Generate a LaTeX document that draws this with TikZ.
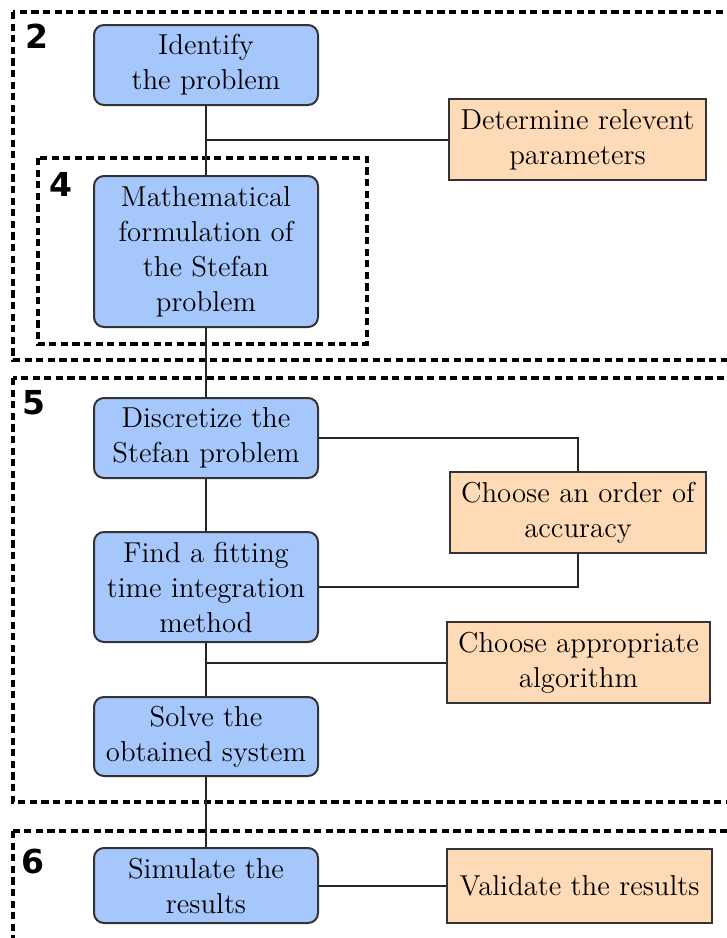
\documentclass[tikz,border=0pt]{standalone}
\usepackage{fontspec}
\newfontfamily\labelfont{DejaVu Sans}
\definecolor{boxblue}{RGB}{166,199,252}
\definecolor{boxorange}{RGB}{255,218,182}
\begin{document}
\begin{tikzpicture}[x=0.5pt,y=-0.5pt,
  bluebox/.style={draw=black!80, line width=1pt, fill=boxblue, rounded corners=5pt,
    align=center, inner sep=0pt, minimum width=112pt,
    font=\fontsize{14.4}{17.5}\selectfont},
  orangebox/.style={draw=black!80, line width=1pt, fill=boxorange,
    align=center, inner sep=0pt, font=\fontsize{14.4}{17.5}\selectfont},
  region/.style={draw=black, line width=1.7pt, dash pattern=on 3.6pt off 2.2pt},
  regionlabel/.style={font=\labelfont\bfseries\fontsize{16.5}{18}\selectfont, inner sep=0pt},
  link/.style={draw=black!85, line width=1pt}]
\clip (0,0) rectangle (727,938);

% regions
\draw[region] (13,12) rectangle (745,360);
\draw[region] (38,158) rectangle (367,344);
\draw[region] (13,378) rectangle (745,802);
\draw[region] (13,831) rectangle (745,955);
\node[regionlabel] (l2) at (37,36) {2};
\node[regionlabel] (l4) at (61,184) {4};
\node[regionlabel] (l5) at (34,403) {5};
\node[regionlabel] (l6) at (33,861) {6};

% main steps
\node[bluebox, minimum height=40pt] (identify) at (206,65) {Identify\\the problem};
\node[bluebox, minimum height=75.5pt] (math) at (206,251.5) {Mathematical\\formulation of\\the Stefan\\problem};
\node[bluebox, minimum height=40pt] (disc) at (206,438) {Discretize the\\Stefan problem};
\node[bluebox, minimum height=55pt] (find) at (206,587) {Find a fitting\\time integration\\method};
\node[bluebox, minimum height=39.5pt] (solve) at (206,736.5) {Solve the\\obtained system};
\node[bluebox, minimum height=37.5pt] (sim) at (206,885.5) {Simulate the\\results};

% side steps
\node[orangebox, minimum width=128.5pt, minimum height=40.5pt] (param) at (577.5,139.5) {Determine relevent\\parameters};
\node[orangebox, minimum width=128pt, minimum height=40.5pt] (order) at (578,512.5) {Choose an order of\\accuracy};
\node[orangebox, minimum width=131.5pt, minimum height=40.5pt] (algo) at (578.5,662.5) {Choose appropriate\\algorithm};
\node[orangebox, minimum width=132.5pt, minimum height=37pt] (valid) at (579.5,885.5) {Validate the results};

\coordinate (j1) at (206,139.5);
\coordinate (j2) at (206,662.5);

% connectors
\draw[link] (identify) -- (math);
\draw[link] (math) -- (disc);
\draw[link] (disc) -- (find);
\draw[link] (find) -- (solve);
\draw[link] (solve) -- (sim);
\draw[link] (j1) -- (param.west);
\draw[link] (j2) -- (algo.west);
\draw[link] (disc.east) -| (order.north);
\draw[link] (order.south) |- (find.east);
\draw[link] (sim.east) -- (valid.west);
\end{tikzpicture}
\end{document}
